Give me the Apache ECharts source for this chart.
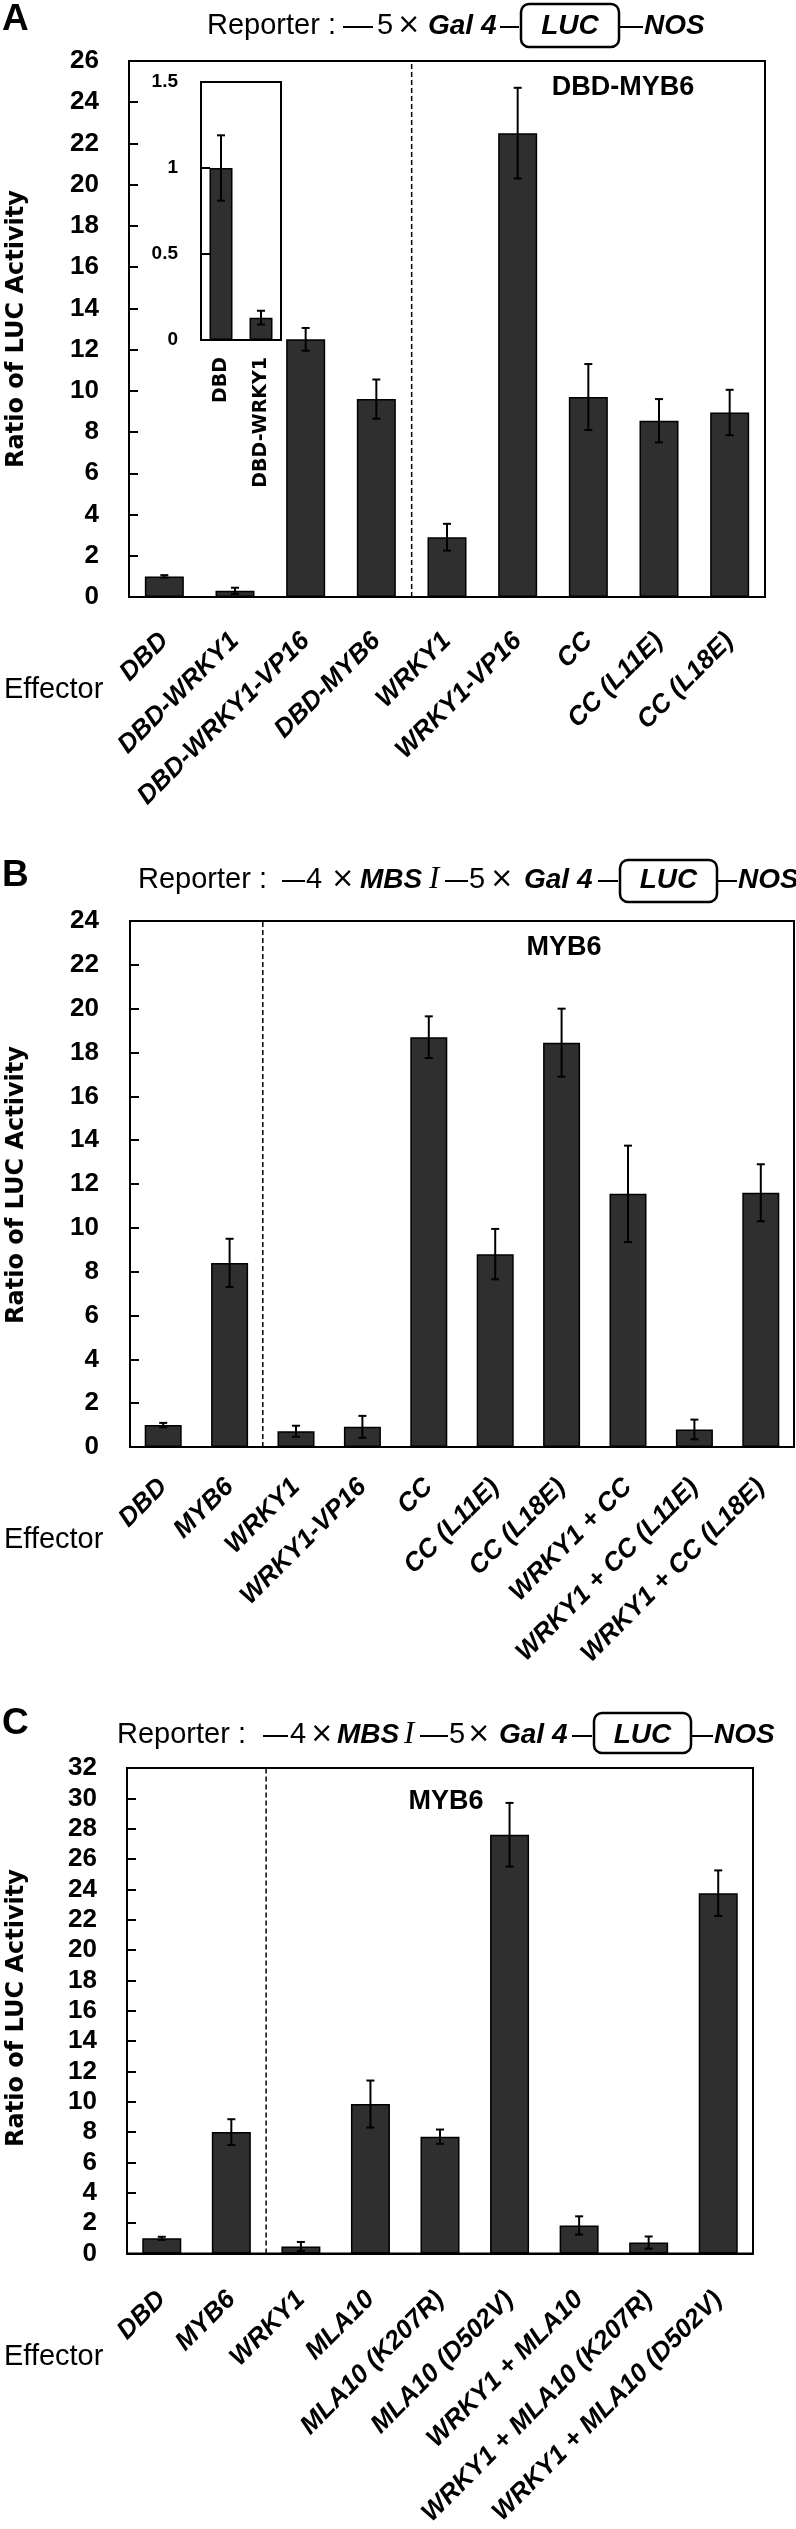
<!DOCTYPE html>
<html>
<head>
<meta charset="utf-8">
<script src="https://cdn.jsdelivr.net/npm/echarts@6.0.0/dist/echarts.min.js"></script>
<style>
  html, body { margin: 0; padding: 0; background: #ffffff; }
  #chart { width: 796px; height: 2529px; }
</style>
</head>
<body>
<div id="chart"></div>
<script>
// panel A
var catsA = ['DBD', 'DBD-WRKY1', 'DBD-WRKY1-VP16', 'DBD-MYB6', 'WRKY1', 'WRKY1-VP16', 'CC', 'CC (L11E)', 'CC (L18E)']
var valsA = [1.0, 0.3, 12.5, 9.6, 2.9, 22.5, 9.7, 8.55, 8.95]
var errA = [0.06, 0.15, 0.55, 0.95, 0.65, 2.2, 1.6, 1.05, 1.1]
// inset of panel A
var catsInset = ['DBD', 'DBD-WRKY1']
var valsInset = [1.0, 0.13]
var errInset = [0.19, 0.04]
// panel B
var catsB = ['DBD', 'MYB6', 'WRKY1', 'WRKY1-VP16', 'CC', 'CC (L11E)', 'CC (L18E)', 'WRKY1 + CC', 'WRKY1 + CC (L11E)', 'WRKY1 + CC (L18E)']
var valsB = [1.0, 8.4, 0.72, 0.92, 18.7, 8.8, 18.45, 11.55, 0.8, 11.6]
var errB = [0.1, 1.1, 0.25, 0.5, 0.95, 1.15, 1.55, 2.2, 0.45, 1.3]
// panel C
var catsC = ['DBD', 'MYB6', 'WRKY1', 'MLA10', 'MLA10 (K207R)', 'MLA10 (D502V)', 'WRKY1 + MLA10', 'WRKY1 + MLA10 (K207R)', 'WRKY1 + MLA10 (D502V)']
var valsC = [1.0, 8.0, 0.46, 9.85, 7.7, 27.6, 1.85, 0.72, 23.75]
var errC = [0.1, 0.85, 0.3, 1.55, 0.47, 2.1, 0.6, 0.4, 1.5]

// y axis ranges
var yMaxA = 26, yMaxInset = 1.5, yMaxB = 24, yMaxC = 32
// dashed divider sits after this category index
var divA = 3, divB = 1, divC = 1

var SANS = '"Liberation Sans", Arial, sans-serif'
var chart = echarts.init(document.getElementById('chart'))

function xAxisCfg(idx, cats, margin) {
  return {
    type: 'category', gridIndex: idx, data: cats,
    axisLine: { lineStyle: { color: '#000', width: 2 } },
    axisTick: { inside: true, length: 9, lineStyle: { color: '#000', width: 2 } },
    axisLabel: {
      interval: 0, rotate: 45, margin: margin, color: '#000',
      fontFamily: SANS, fontSize: 26, fontWeight: 'bold', fontStyle: 'italic'
    },
    splitLine: { show: false }
  }
}

function yAxisCfg(idx, max, interval, size, margin) {
  return {
    type: 'value', gridIndex: idx, min: 0, max: max, interval: interval,
    axisLine: { show: true, lineStyle: { color: '#000', width: 2 } },
    axisTick: { show: true, inside: true, length: 9, lineStyle: { color: '#000', width: 2 } },
    axisLabel: { color: '#000', fontFamily: SANS, fontSize: size, fontWeight: 'bold', margin: margin },
    splitLine: { show: false }
  }
}

function barSeries(idx, vals, width) {
  return {
    type: 'bar', xAxisIndex: idx, yAxisIndex: idx, data: vals, barWidth: width, silent: true,
    itemStyle: { color: '#2f2f2f', borderColor: '#000', borderWidth: 1.5 }
  }
}

function errSeries(idx, vals, errs) {
  return {
    type: 'custom', xAxisIndex: idx, yAxisIndex: idx, z: 5, silent: true,
    encode: { x: 0, y: 1 },
    data: vals.map(function (v, i) { return [i, v, errs[i]] }),
    renderItem: function (params, api) {
      var i = api.value(0), m = api.value(1), e = api.value(2)
      var hi = api.coord([i, m + e])
      var lo = api.coord([i, m - e])
      var c = 4
      var st = { stroke: '#000', lineWidth: 2 }
      return {
        type: 'group', children: [
          { type: 'line', shape: { x1: hi[0], y1: hi[1], x2: lo[0], y2: lo[1] }, style: st },
          { type: 'line', shape: { x1: hi[0] - c, y1: hi[1], x2: hi[0] + c, y2: hi[1] }, style: st },
          { type: 'line', shape: { x1: lo[0] - c, y1: lo[1], x2: lo[0] + c, y2: lo[1] }, style: st }
        ]
      }
    }
  }
}

function dividerSeries(idx, after, max) {
  return {
    type: 'custom', xAxisIndex: idx, yAxisIndex: idx, z: 4, silent: true,
    encode: { x: 0, y: 1 },
    data: [[after, max]],
    renderItem: function (params, api) {
      var i = api.value(0)
      var a = api.coord([i, 0])
      var b = api.coord([i + 1, api.value(1)])
      var x = (a[0] + b[0]) / 2
      return {
        type: 'line', shape: { x1: x, y1: a[1], x2: x, y2: b[1] },
        style: { stroke: '#000', lineWidth: 1.5, lineDash: [5, 3] }
      }
    }
  }
}

// reporter construct drawn above each panel
function header(cy, pieces, boxTop, boxH) {
  var out = []
  pieces.forEach(function (p) {
    var k = p[0]
    if (k === 'd') {
      out.push({ type: 'line', shape: { x1: p[1], y1: cy + 1, x2: p[2], y2: cy + 1 }, style: { stroke: '#000', lineWidth: 2 } })
    } else if (k === 'b') {
      out.push({ type: 'rect', shape: { x: p[1], y: boxTop, width: p[2] - p[1], height: boxH, r: 8 }, style: { fill: '#fff', stroke: '#000', lineWidth: 2.5 } })
      out.push({ type: 'text', x: (p[1] + p[2]) / 2, y: cy, style: { text: p[3], font: 'italic bold 28px ' + SANS, fill: '#000', textAlign: 'center', textVerticalAlign: 'middle' } })
    } else {
      var font = '29px ' + SANS
      if (k === 'i') font = 'italic bold 28px ' + SANS
      if (k === 's') font = 'italic 31px "Liberation Serif", serif'
      if (k === 'x') font = '28px "DejaVu Sans", sans-serif'
      out.push({ type: 'text', x: p[2], y: cy, style: { text: p[1], font: font, fill: '#000', textAlign: 'left', textVerticalAlign: 'middle' } })
    }
  })
  return out
}

function txt(x, y, text, font, align, rot) {
  return {
    type: 'text', x: x, y: y, rotation: rot || 0,
    style: { text: text, font: font, fill: '#000', textAlign: align || 'left', textVerticalAlign: 'middle' }
  }
}

var graphics = []
graphics = graphics.concat(header(26, [
  ['t', 'Reporter :', 207], ['d', 343, 373], ['t', '5', 377], ['x', '×', 397], ['i', 'Gal 4', 428],
  ['d', 500, 519], ['b', 521, 619, 'LUC'], ['d', 619, 643], ['i', 'NOS', 644]
], 4, 43))
graphics = graphics.concat(header(880, [
  ['t', 'Reporter :', 138], ['d', 282, 305], ['t', '4', 306], ['x', '×', 331], ['i', 'MBS', 360], ['s', 'I', 429],
  ['d', 445, 468], ['t', '5', 469], ['x', '×', 490], ['i', 'Gal 4', 524],
  ['d', 598, 618], ['b', 620, 717, 'LUC'], ['d', 717, 737], ['i', 'NOS', 738]
], 860, 42))
graphics = graphics.concat(header(1735, [
  ['t', 'Reporter :', 117], ['d', 263, 288], ['t', '4', 290], ['x', '×', 310], ['i', 'MBS', 337], ['s', 'I', 404],
  ['d', 420, 448], ['t', '5', 449], ['x', '×', 467], ['i', 'Gal 4', 499],
  ['d', 572, 592], ['b', 594, 691, 'LUC'], ['d', 691, 713], ['i', 'NOS', 714]
], 1713, 40))

var letterFont = 'bold 37px ' + SANS
graphics.push(txt(2, 20, 'A', letterFont))
graphics.push(txt(2, 876, 'B', letterFont))
graphics.push(txt(2, 1724, 'C', letterFont))

var titleFont = 'bold 24px "DejaVu Sans", sans-serif'
graphics.push(txt(17, 329, 'Ratio of LUC Activity', titleFont, 'center', Math.PI / 2))
graphics.push(txt(17, 1185, 'Ratio of LUC Activity', titleFont, 'center', Math.PI / 2))
graphics.push(txt(17, 2008, 'Ratio of LUC Activity', titleFont, 'center', Math.PI / 2))

var effFont = '29px ' + SANS
graphics.push(txt(4, 690, 'Effector', effFont))
graphics.push(txt(4, 1540, 'Effector', effFont))
graphics.push(txt(4, 2357, 'Effector', effFont))

var noteFont = 'bold 27px ' + SANS
graphics.push(txt(623, 88, 'DBD-MYB6', noteFont, 'center'))
graphics.push(txt(564, 948, 'MYB6', noteFont, 'center'))
graphics.push(txt(446, 1802, 'MYB6', noteFont, 'center'))

var gridBase = { show: true, borderColor: '#000', borderWidth: 2, backgroundColor: 'transparent' }

var option = {
  animation: false,
  backgroundColor: '#ffffff',
  grid: [
    Object.assign({ left: 129, top: 61, width: 636, height: 536 }, gridBase),
    Object.assign({ left: 201, top: 82, width: 80, height: 258 }, gridBase),
    Object.assign({ left: 130, top: 921, width: 664, height: 526 }, gridBase),
    Object.assign({ left: 127, top: 1768, width: 626, height: 487 }, gridBase)
  ],
  xAxis: [
    xAxisCfg(0, catsA, 40),
    {
      type: 'category', gridIndex: 1, data: catsInset,
      axisLine: { lineStyle: { color: '#000', width: 2 } },
      axisTick: { inside: true, length: 7, lineStyle: { color: '#000', width: 2 } },
      axisLabel: { interval: 0, rotate: 90, margin: 17, color: '#000', fontFamily: '"DejaVu Sans", sans-serif', fontSize: 19, fontWeight: 'bold' }
    },
    xAxisCfg(2, catsB, 36),
    xAxisCfg(3, catsC, 42)
  ],
  yAxis: [
    yAxisCfg(0, yMaxA, 2, 26, 30),
    yAxisCfg(1, yMaxInset, 0.5, 19, 23),
    yAxisCfg(2, yMaxB, 2, 26, 31),
    yAxisCfg(3, yMaxC, 2, 26, 30)
  ],
  series: [
    barSeries(0, valsA, 39),
    errSeries(0, valsA, errA),
    dividerSeries(0, divA, yMaxA),
    barSeries(1, valsInset, 23),
    errSeries(1, valsInset, errInset),
    barSeries(2, valsB, 37),
    errSeries(2, valsB, errB),
    dividerSeries(2, divB, yMaxB),
    barSeries(3, valsC, 39),
    errSeries(3, valsC, errC),
    dividerSeries(3, divC, yMaxC)
  ],
  graphic: graphics
}

chart.setOption(option)
</script>
</body>
</html>
